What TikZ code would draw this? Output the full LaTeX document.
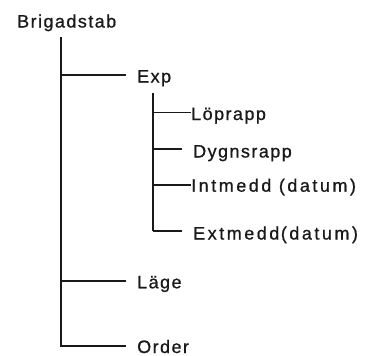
\documentclass[tikz,border=0pt]{standalone}
\usepackage{fontspec}
\setmainfont{Liberation Sans}[LetterSpace=8,FakeBold=0.8]
\newfontfamily\widefont{Liberation Sans}[LetterSpace=14,FakeBold=0.8]
\begin{document}
\begin{tikzpicture}[x=1bp,y=-1bp,
  lbl/.style={anchor=base west,inner sep=0pt,text=black!90,font=\fontsize{18bp}{20bp}\selectfont},
  widelbl/.style={lbl,font=\fontsize{18bp}{20bp}\widefont},
  trunk/.style={line width=2.2bp,black!90},
  branch/.style={line width=1.9bp,black!90}]
\useasboundingbox (0,0) rectangle (367,356);
% labels
\node[lbl] (bs)    at (17,27.5)  {Brigadstab};
\node[lbl] (exp)   at (137,82.5) {Exp};
\node[lbl] (lop)   at (191,120)  {Löprapp};
\node[lbl] (dyg)   at (193,157.5){Dygnsrapp};
\node[widelbl] (int)   at (191,191.7){Intmedd (datum)};
\node[widelbl] (ext)   at (193,239.5){Extmedd\hspace{1.5bp}(datum)};
\node[lbl] (lage)  at (137,288.3){Läge};
\node[lbl] (order) at (137,353)  {Order};
% junctions
\coordinate (m0) at (61,37);
\coordinate (mE) at (61,75);
\coordinate (mL) at (61,281);
\coordinate (mO) at (61,346);
\coordinate (s0) at (153,93);
\coordinate (s1) at (153,112.5);
\coordinate (s2) at (153,149);
\coordinate (s3) at (153,185);
\coordinate (s4) at (153,231);
% main tree
\draw[trunk] (m0) -- (mO);
\draw[branch,shorten >=11bp] (mE) -- (mE -| exp.west);
\draw[branch,shorten >=11bp] (mL) -- (mL -| lage.west);
\draw[branch,shorten >=11bp,line join=miter] ([yshift=-0.9bp]mO) -- (mO) -- (mO -| order.west);
% sub tree
\draw[branch] (s0) -- (s4);
\draw[branch] (s1) -- (s1 -| lop.west);
\draw[branch,shorten >=11bp] (s2) -- (s2 -| dyg.west);
\draw[branch] (s3) -- (s3 -| int.west);
\draw[branch,shorten >=11bp] (s4) -- (s4 -| ext.west);
\end{tikzpicture}
\end{document}
